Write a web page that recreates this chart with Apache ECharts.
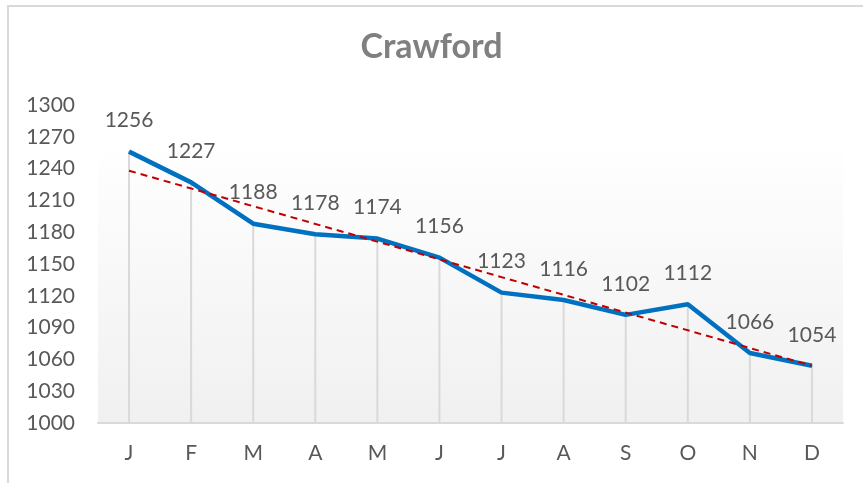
<!DOCTYPE html>
<html>
<head>
<meta charset="utf-8">
<script src="https://cdn.jsdelivr.net/npm/echarts@6/dist/echarts.min.js"></script>
<style>
  html, body { margin: 0; padding: 0; background: #fff; }
  #chart { width: 863px; height: 483px; }
</style>
</head>
<body>
<div id="chart"></div>
<script>
const months = ['J', 'F', 'M', 'A', 'M', 'J', 'J', 'A', 'S', 'O', 'N', 'D'];
const visitors = [1256, 1227, 1188, 1178, 1174, 1156, 1123, 1116, 1102, 1112, 1066, 1054];
// trendline ends (first and last month)
const trendEnds = [1238, 1054];

const font = 'Lato';
const chart = echarts.init(document.getElementById('chart'));

chart.setOption({
  animation: false,
  backgroundColor: '#fff',
  textStyle: { fontFamily: font },
  title: {
    text: 'Crawford',
    left: 'center',
    top: 25,
    textStyle: { fontFamily: font, fontSize: 34, fontWeight: 'bold', color: '#808080' }
  },
  graphic: [{
    type: 'rect',
    shape: { x: 8, y: 6, width: 900, height: 520 },
    style: { fill: 'none', stroke: '#d9d9d9', lineWidth: 2 },
    silent: true
  }],
  grid: {
    left: 98, right: 20, top: 105, bottom: 60,
    show: true,
    borderWidth: 0,
    backgroundColor: {
      type: 'linear', x: 0, y: 0, x2: 0, y2: 1,
      colorStops: [
        { offset: 0, color: '#ffffff' },
        { offset: 0.12, color: '#ffffff' },
        { offset: 1, color: '#f0f0f0' }
      ]
    }
  },
  xAxis: {
    type: 'category',
    data: months,
    boundaryGap: true,
    axisLine: { lineStyle: { color: '#d9d9d9', width: 2 } },
    axisTick: { show: false },
    axisLabel: { fontFamily: font, fontSize: 21, color: '#595959', margin: 20 }
  },
  yAxis: {
    type: 'value',
    min: 1000,
    max: 1300,
    interval: 30,
    axisLine: { show: false },
    axisTick: { show: false },
    splitLine: { show: false },
    axisLabel: {
      fontFamily: font, fontSize: 21, color: '#595959', margin: 23,
      formatter: (v) => String(v)
    }
  },
  series: [
    {
      name: 'drop',
      type: 'bar',
      data: visitors,
      barWidth: 2,
      itemStyle: { color: '#d9d9d9' },
      silent: true,
      z: 1
    },
    {
      name: 'Crawford',
      type: 'line',
      data: visitors,
      symbol: 'circle',
      symbolSize: 1,
      itemStyle: { color: '#0070c0' },
      lineStyle: { color: '#0070c0', width: 4.5 },
      label: {
        show: true,
        position: 'top',
        distance: 20,
        fontFamily: font,
        fontSize: 21,
        color: '#595959'
      },
      z: 3
    },
    {
      name: 'trend',
      type: 'line',
      data: [[0, trendEnds[0]], [months.length - 1, trendEnds[1]]],
      symbol: 'none',
      lineStyle: { color: '#c00000', width: 2, type: [7, 5] },
      silent: true,
      z: 4
    }
  ]
});
</script>
</body>
</html>
